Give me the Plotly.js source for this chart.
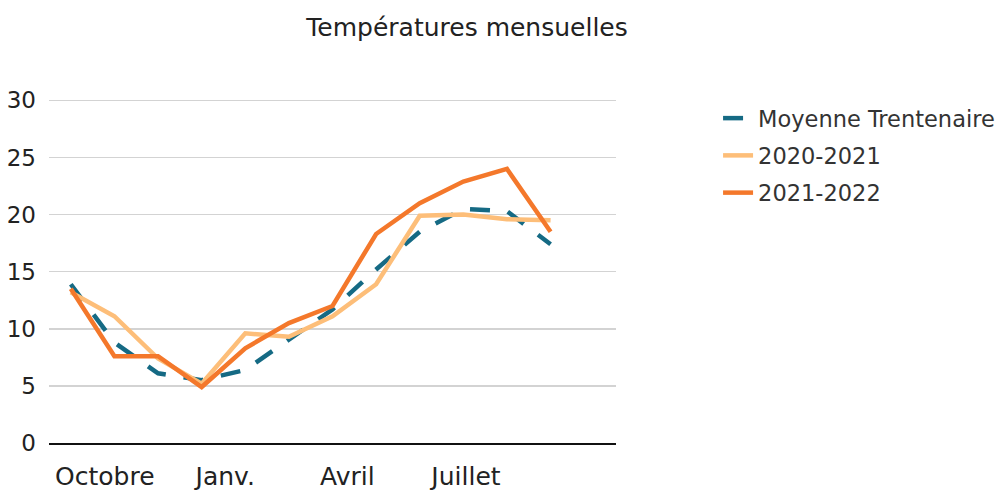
<!DOCTYPE html>
<html>
<head>
<meta charset="utf-8">
<script src="https://cdn.plot.ly/plotly-3.0.1.min.js"></script>
<style>
  body { margin: 0; background: #fff; }
  #chart { width: 999px; height: 490px; }
</style>
</head>
<body>
<div id="chart"></div>
<script>
// Monthly temperatures, October to September
var months = ["Octobre", "Novembre", "Décembre", "Janv.", "Février", "Mars",
              "Avril", "Mai", "Juin", "Juillet", "Août", "Septembre"];
var monthIndex = months.map((m, i) => i);

var moyenne = [13.9, 8.8, 6.1, 5.5, 6.4, 9.0, 11.7, 15.2, 18.5, 20.5, 20.3, 17.4];
var temp2021 = [13.2, 11.1, 7.4, 5.2, 9.6, 9.3, 11.1, 13.9, 19.9, 20.0, 19.6, 19.5];
var temp2022 = [13.5, 7.6, 7.6, 4.9, 8.3, 10.5, 12.0, 18.3, 21.0, 22.9, 24.0, 18.5];

// only every third month gets a label
var tickPos = [0.78, 3.54, 6.34, 9.06];
var tickText = ["Octobre", "Janv.", "Avril", "Juillet"];

var font = "DejaVu Sans, sans-serif";

var trace1 = {
    x: monthIndex,
    y: moyenne,
    name: "Moyenne Trentenaire",
    legendgroup: "a",
    type: "scatter",
    mode: "lines",
    line: {color: "#156a84", width: 4.5, dash: "20px,18px"}
};

var trace2 = {
    x: monthIndex,
    y: temp2021,
    name: "2020-2021",
    legendgroup: "b",
    type: "scatter",
    mode: "lines",
    line: {color: "#fdbe79", width: 4.5}
};

var trace3 = {
    x: monthIndex,
    y: temp2022,
    name: "2021-2022",
    legendgroup: "c",
    type: "scatter",
    mode: "lines",
    line: {color: "#f4782b", width: 4.5}
};

var data = [trace1, trace2, trace3];

var layout = {
    width: 999,
    height: 490,
    margin: {l: 49, r: 383, t: 97, b: 47, autoexpand: false},
    paper_bgcolor: "#fff",
    plot_bgcolor: "#fff",
    font: {family: font, color: "#333", size: 21},
    title: {
        text: "Températures mensuelles",
        font: {family: font, size: 25, color: "#222"},
        x: 0.4675, xanchor: "center", xref: "container",
        y: 0.945, yanchor: "middle"
    },
    xaxis: {
        range: [-0.5, 12.5],
        tickvals: tickPos,
        ticktext: tickText,
        ticks: "",
        showgrid: false,
        zeroline: false,
        showline: true,
        linecolor: "#111",
        linewidth: 2,
        ticklabelstandoff: 10,
        tickfont: {family: font, size: 25, color: "#222"}
    },
    yaxis: {
        range: [0, 30.3],
        tickvals: [0, 5, 10, 15, 20, 25, 30],
        ticks: "",
        showgrid: true,
        gridcolor: "#d3d3d3",
        gridwidth: 1.5,
        zeroline: false,
        ticklabelstandoff: 12,
        tickfont: {family: font, size: 23, color: "#222"}
    },
    showlegend: true,
    legend: {
        x: 1.18, xanchor: "left",
        y: 1.0, yanchor: "top",
        tracegroupgap: 5,
        font: {family: font, size: 22.5, color: "#333"}
    }
};

Plotly.newPlot("chart", data, layout, {staticPlot: true});
</script>
</body>
</html>
